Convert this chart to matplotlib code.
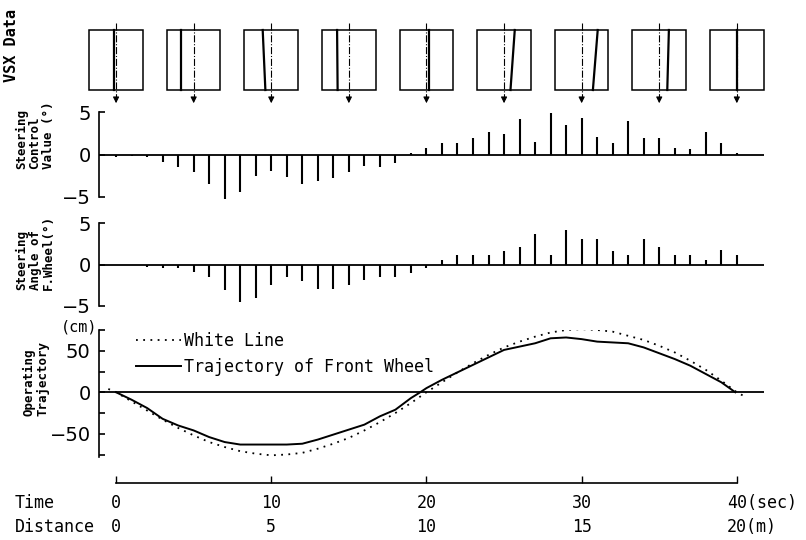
import matplotlib
matplotlib.use('Agg')
import matplotlib.pyplot as plt
import matplotlib.transforms as mtransforms
from matplotlib.patches import Rectangle

# VSX 화면 데이터 (5초 간격, 흰 선 위치 = 박스 폭 대비 비율)
vsx_times = [0, 5, 10, 15, 20, 25, 30, 35, 40]
vsx_top = [-0.04, -0.23, -0.16, -0.22, 0.05, 0.20, 0.30, 0.18, 0.0]
vsx_bottom = [-0.04, -0.23, -0.11, -0.21, 0.05, 0.12, 0.21, 0.15, 0.0]

# 1초 간격 조향 데이터
bar_times = list(range(41))
control_value = [-0.3, -0.2, -0.3, -0.9, -1.5, -2.1, -3.5, -5.3, -4.4, -2.6,
                 -1.9, -2.7, -3.5, -3.1, -2.8, -2.1, -1.35, -1.5, -0.95, 0.2,
                 0.75, 1.35, 1.35, 2.0, 2.7, 2.4, 4.25, 1.5, 4.95, 3.5,
                 4.3, 2.1, 1.35, 4.0, 2.0, 2.0, 0.8, 0.7, 2.7, 1.4, 0.2]
wheel_angle = [-0.1, -0.1, -0.3, -0.4, -0.4, -0.9, -1.5, -3.1, -4.55, -4.05,
               -2.45, -1.55, -1.95, -3.0, -3.0, -2.45, -1.85, -1.55, -1.5, -1.0,
               -0.45, 0.5, 1.1, 1.1, 1.1, 1.6, 2.1, 3.65, 1.1, 4.15,
               3.1, 3.1, 1.6, 1.1, 3.1, 2.1, 1.1, 1.1, 0.6, 1.7, 1.1]

# 궤적 (cm)
white_t = [-0.5, 0, 1, 2, 3, 4, 5, 6, 7, 8, 9, 10, 11, 12, 13, 14, 15, 16, 17, 18, 19,
           20, 21, 22, 23, 24, 25, 26, 27, 28, 29, 30, 31, 32, 33, 34, 35, 36, 37, 38, 39, 40, 40.6]
white_y = [4, 0, -11, -22, -33, -43, -52, -60, -66, -71, -74, -76, -75, -73, -68, -62, -55, -46, -36, -25, -13,
           0, 12, 24, 35, 45, 54, 61, 67, 72, 75, 76, 75, 73, 68, 63, 56, 48, 38, 27, 14, 0, -6]
wheel_t = [0, 1, 2, 3, 4, 5, 6, 7, 8, 9, 10, 11, 12, 13, 14, 15, 16, 17, 18, 19, 19.6,
           20, 21, 22, 23, 24, 25, 26, 27, 28, 29, 30, 31, 32, 33, 34, 35, 36, 37, 38, 39, 39.9]
wheel_y = [0, -9, -19, -32, -40, -46, -54, -60, -63, -63, -63, -63, -62, -57, -51, -45, -39, -29, -21, -7, 0,
           5, 15, 24, 33, 42, 51, 55, 59, 65, 66, 64, 61, 60, 59, 54, 47, 40, 32, 22, 12, 0]

time_ticks = [0, 10, 20, 30, 40]
time_labels = ['0', '10', '20', '30', '40(sec)']
dist_labels = ['0', '5', '10', '15', '20(m)']

W, H = 806, 540
T_MIN, T_MAX = -1.1, 41.75
MONO = 'DejaVu Sans Mono'
BOX_W = 3.45

fig = plt.figure(figsize=(W / 100, H / 100), dpi=100)


def add_ax(top, bottom, left=99, right=764):
    ax = fig.add_axes([left / W, 1 - bottom / H, (right - left) / W, (bottom - top) / H])
    ax.set_xlim(T_MIN, T_MAX)
    ax.patch.set_visible(False)
    for s in ['top', 'right', 'bottom']:
        ax.spines[s].set_visible(False)
    ax.set_xticks([])
    return ax


def bar_panel(ax, values):
    ax.vlines(bar_times, 0, values, color='k', lw=1.5, clip_on=False)
    ax.axhline(0, color='k', lw=1.3)
    ax.set_ylim(-5, 5)
    ax.spines['left'].set_linewidth(1.2)
    ax.set_yticks([-5, 0, 5], ['\u22125', '0', '5'])
    ax.tick_params(axis='y', direction='in', length=4, width=1.2, labelsize=14, pad=6)


# VSX 화면
ax_v = add_ax(15, 108)
ax_v.set_ylim(108, 15)
ax_v.axis('off')
for t, top_off, bot_off in zip(vsx_times, vsx_top, vsx_bottom):
    ax_v.add_patch(Rectangle((t - BOX_W / 2, 30), BOX_W, 60, fill=False, ec='k', lw=1.1, clip_on=False))
    ax_v.plot([t + top_off * BOX_W, t + bot_off * BOX_W], [30, 90], color='k', lw=1.6, clip_on=False)
    ax_v.plot([t, t], [23, 99], color='k', lw=0.8, ls='-.', clip_on=False)
    ax_v.annotate('', xy=(t, 106), xytext=(t, 96),
                  arrowprops=dict(arrowstyle='-|>', color='k', lw=0.8, mutation_scale=9))

# 조향 제어값 / 앞바퀴 조향각
ax1 = add_ax(112.3, 196.7)
bar_panel(ax1, control_value)
ax2 = add_ax(223.3, 305.7)
bar_panel(ax2, wheel_angle)

# 주행 궤적
ax3 = add_ax(330, 457)
ax3.plot(white_t, white_y, color='k', lw=1.3, ls=(0, (1, 3)), label='White Line')
ax3.plot(wheel_t, wheel_y, color='k', lw=1.4, label='Trajectory of Front Wheel')
ax3.axhline(0, color='k', lw=1.3)
ax3.set_ylim(-78, 75)
ax3.spines['left'].set_linewidth(1.2)
ax3.set_yticks([-75, -50, -25, 0, 25, 50, 75], ['', '\u221250', '', '0', '', '50', ''])
ax3.tick_params(axis='y', direction='in', length=4, width=1.2, labelsize=14, pad=6)
ax3.legend(loc='upper left', bbox_to_anchor=(136 / W, 1 - 332 / H), bbox_transform=fig.transFigure,
           frameon=False, prop={'family': MONO, 'size': 12}, handlelength=2.7,
           handletextpad=0.2, labelspacing=0.45, borderpad=0, borderaxespad=0)

# 시간 축
ax_t = add_ax(470, 483)
ax_t.set_ylim(0, 1)
ax_t.spines['left'].set_visible(False)
ax_t.spines['bottom'].set_visible(True)
ax_t.spines['bottom'].set_bounds(0, 40)
ax_t.spines['bottom'].set_linewidth(1.2)
ax_t.set_yticks([])
ax_t.set_xticks(time_ticks, [''] * len(time_ticks))
ax_t.tick_params(axis='x', direction='in', length=5, width=1.0)

trans = mtransforms.blended_transform_factory(ax_t.transData, fig.transFigure)
for t, tl, dl in zip(time_ticks, time_labels, dist_labels):
    if t == time_ticks[-1]:
        tr = mtransforms.offset_copy(trans, fig=fig, x=-10, units='dots')
        ax_t.text(t, 1 - 503 / H, tl, transform=tr, ha='left', va='center', family=MONO, fontsize=12)
        ax_t.text(t, 1 - 527 / H, dl, transform=tr, ha='left', va='center', family=MONO, fontsize=12)
    else:
        ax_t.text(t, 1 - 503 / H, tl, transform=trans, ha='center', va='center', family=MONO, fontsize=12)
        ax_t.text(t, 1 - 527 / H, dl, transform=trans, ha='center', va='center', family=MONO, fontsize=12)
fig.text(15 / W, 1 - 503 / H, 'Time', ha='left', va='center', family=MONO, fontsize=12)
fig.text(15 / W, 1 - 527 / H, 'Distance', ha='left', va='center', family=MONO, fontsize=12)

# 세로 라벨
fig.text(12 / W, 1 - 45 / H, 'VSX Data', rotation=90, ha='center', va='center',
         family=MONO, fontsize=11, fontweight='bold')
fig.text(35 / W, 1 - 135 / H, 'Steering\nControl\nValue (\u00b0)', rotation=90, ha='center', va='center',
         multialignment='left', family=MONO, fontsize=9, fontweight='bold', linespacing=1.05)
fig.text(35 / W, 1 - 252 / H, 'Steering\nAngle of\nF.Wheel(\u00b0)', rotation=90, ha='center', va='center',
         multialignment='left', family=MONO, fontsize=9, fontweight='bold', linespacing=1.05)
fig.text(36 / W, 1 - 378 / H, 'Operating\nTrajectory', rotation=90, ha='center', va='center',
         multialignment='left', family=MONO, fontsize=9, fontweight='bold', linespacing=1.05)
fig.text(79 / W, 1 - 327 / H, '(cm)', ha='center', va='center', family=MONO, fontsize=11)

fig.savefig('out.png', dpi=100)
